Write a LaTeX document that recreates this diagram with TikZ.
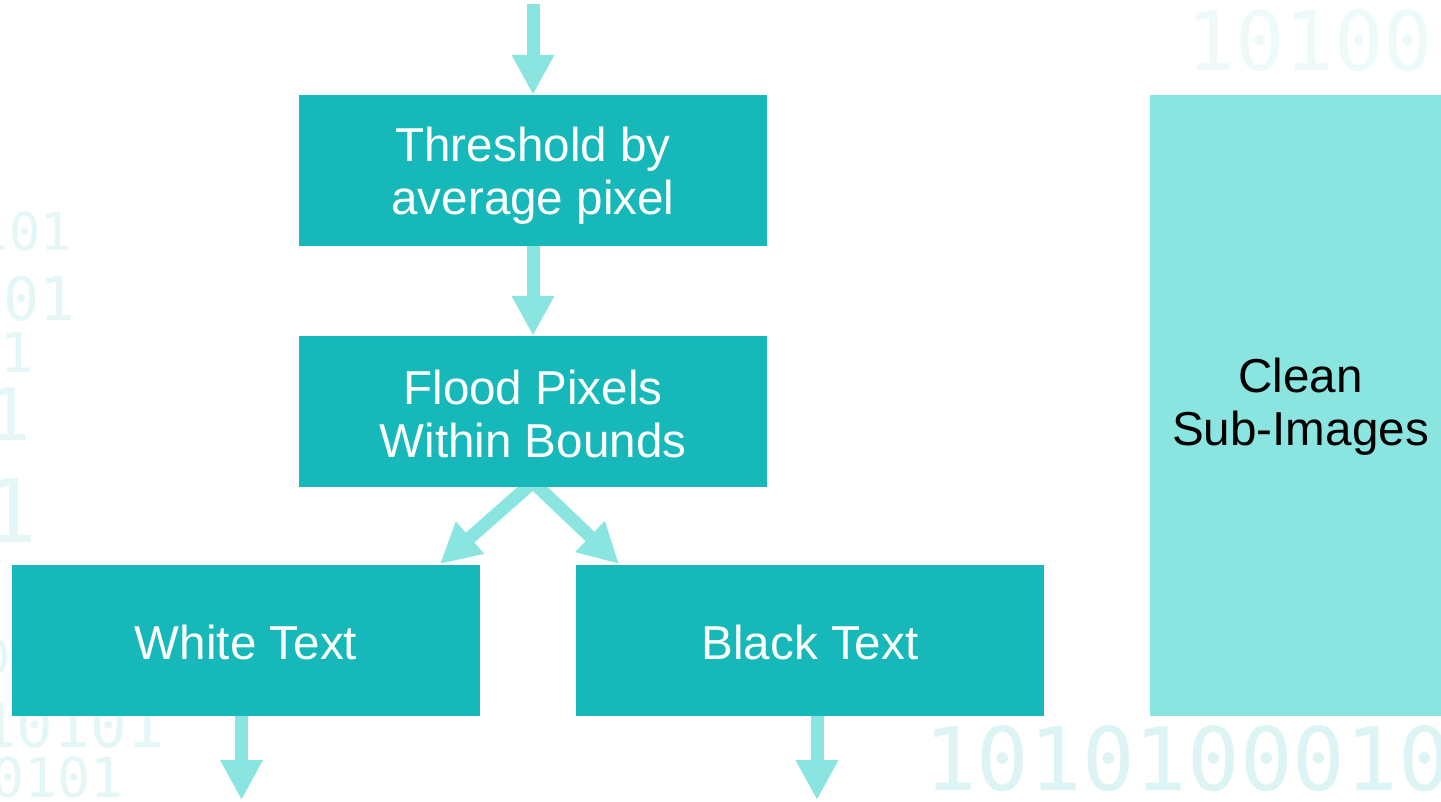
\documentclass[tikz,border=0pt]{standalone}
\usepackage{fontspec}
\setmainfont{Liberation Sans}
\newfontfamily\digitfont{DejaVu Sans Mono}
\usetikzlibrary{arrows.meta,calc}
\pgfdeclarelayer{back}
\pgfsetlayers{back,main}
\definecolor{boxc}{HTML}{17B8B9}
\definecolor{arrc}{HTML}{8AE5E1}
\definecolor{dig1}{HTML}{DDF4F4}
\definecolor{dig2}{HTML}{EEFAFA}
\definecolor{dig3}{HTML}{E4F6F6}
\tikzset{
  boxtext/.style={inner sep=0pt, align=center, font=\fontsize{47.6}{53.5}\selectfont},
  stepbox/.style={fill=boxc, text=white, minimum width=468pt, minimum height=151pt,
    boxtext},
  sidebox/.style={fill=arrc, text=black, minimum width=291pt, minimum height=621pt,
    boxtext},
  blockarrow/.style={draw=arrc, line width=13pt,
    -{Triangle[width=40pt,length=40pt]}},
  digits/.style={inner sep=0pt},
}
\begin{document}
\begin{tikzpicture}[x=1pt,y=-1pt]
\useasboundingbox (0,0) rectangle (1441,801);
% boxes
\node[stepbox, label={[boxtext, text=white, yshift=-5pt]center:Threshold by\\average pixel}] (b1) at (533,170.5) {};
\node[stepbox, label={[boxtext, text=white, yshift=-2.5pt]center:Flood Pixels\\Within Bounds}] (b2) at (533,411.5) {};
\node[stepbox, label={[boxtext, text=white, yshift=-2pt]center:White Text}] (b3) at (246,640.5) {};
\node[stepbox, label={[boxtext, text=white, yshift=-2pt]center:Black Text}] (b4) at (810,640.5) {};
\node[sidebox, label={[boxtext, text=black, xshift=5pt, yshift=-1pt]center:Clean\\Sub-Images}] (b5) at (1295.5,405.5) {};
% free ends
\coordinate (topin) at (533,4);
\coordinate (wout) at (241.5,800);
\coordinate (bout) at (817,800);
\coordinate (ltip) at (440,564);
\coordinate (rtip) at (619,564);
\begin{pgfonlayer}{back}
\begin{scope}
\clip (0,0) rectangle (1441,801);
\node[digits, text=dig2, anchor=base west, font=\digitfont\fontsize{82}{82}\selectfont] (d1) at (1186,70) {10100};
\node[digits, text=dig1, anchor=base west, font=\digitfont\fontsize{87.5}{87.5}\selectfont] (d2) at (924,790) {1010100010};
\node[digits, text=dig3, anchor=base east, font=\digitfont\fontsize{52}{52}\selectfont] (d3) at (72,250) {101};
\node[digits, text=dig3, anchor=base east, font=\digitfont\fontsize{60}{60}\selectfont] (d4) at (76,320) {01};
\node[digits, text=dig3, anchor=base east, font=\digitfont\fontsize{55}{55}\selectfont] (d5) at (34,372) {1};
\node[digits, text=dig3, anchor=base east, font=\digitfont\fontsize{72}{72}\selectfont] (d6) at (31,440) {1};
\node[digits, text=dig3, anchor=base east, font=\digitfont\fontsize{88}{88}\selectfont] (d7) at (38,542) {1};
\node[digits, text=dig3, anchor=base east, font=\digitfont\fontsize{46}{46}\selectfont] (d8) at (10,673) {0};
\node[digits, text=dig3, anchor=base east, font=\digitfont\fontsize{61}{61}\selectfont] (d9) at (164,747) {10101};
\node[digits, text=dig3, anchor=base east, font=\digitfont\fontsize{55}{55}\selectfont] (d10) at (124,797) {0101};
\end{scope}
\draw[blockarrow] (topin) -- (b1.north);
\draw[blockarrow] (b1.south) -- (b2.north);
\draw[blockarrow] (b2.south) ++(0,-5) -- (ltip);
\draw[blockarrow] (b2.south) ++(0,-5) -- (rtip);
\draw[blockarrow] (b3.south -| wout) -- (wout);
\draw[blockarrow] (b4.south -| bout) -- (bout);
\end{pgfonlayer}
\end{tikzpicture}
\end{document}
